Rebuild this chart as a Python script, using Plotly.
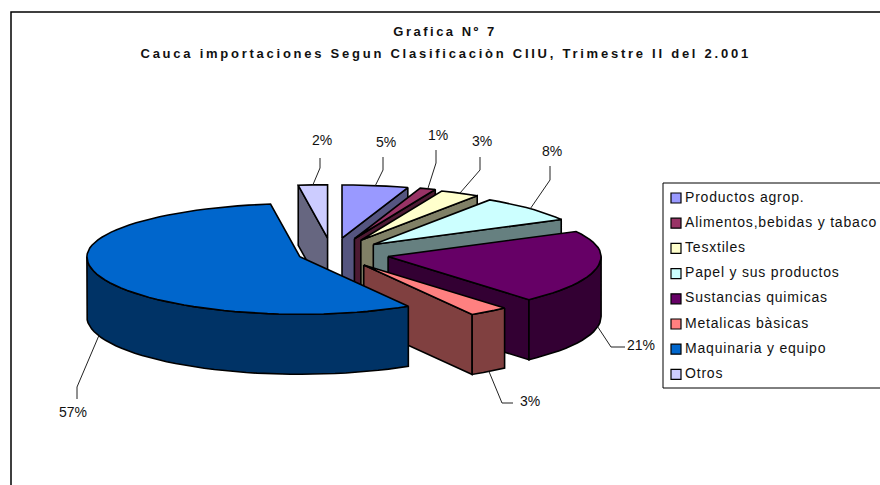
import math
import plotly.graph_objects as go

# --- data ---
categories = ["Productos agrop.", "Alimentos,bebidas y tabaco", "Tesxtiles", "Papel y sus productos",
              "Sustancias quimicas", "Metalicas bàsicas", "Maquinaria y equipo", "Otros"]
values = [5.0, 1.2, 3.0, 8.0, 21.3, 3.0, 56.3, 2.2]
percent_labels = ["5%", "1%", "3%", "8%", "21%", "3%", "57%", "2%"]
pulls = [64, 65, 62, 56, 57, 54, 34, 64]

top_colors = ["#9999FF", "#993366", "#FFFFCC", "#CCFFFF", "#660066", "#FF8080", "#0066CC", "#CCCCFF"]
side_colors = ["#555580", "#4D1A33", "#808066", "#668080", "#330033", "#804040", "#003366", "#666680"]

# --- projection of the exploded 3-D pie ---
CX, CY, R, K_BACK, K_FRONT, DEPTH = 332, 254, 213, 0.25, 0.27, 60
paint_order = [7, 0, 1, 2, 3, 4, 5, 6]

# leader elbows and label anchors, per slice
elbow_x = [[383, 383], [436, 436], [480, 480], [550, 550], [611, 625], [502, 513], [77, 77], [320, 320]]
elbow_y = [[170, 157], [163, 150], [170, 157], [180, 166], [347, 347], [403, 403], [387, 399], [168, 158]]
label_x = [386, 438, 482, 552, 641, 530, 73, 322]
label_y = [143, 136, 142, 152, 346, 402, 413, 141]

total = sum(values)
spans = []
c = 0.0
for v in values:
    a0 = c / total * 360
    c += v
    spans.append((a0, c / total * 360))


def apex(i):
    m = math.radians(sum(spans[i]) / 2)
    return CX + pulls[i] * math.sin(m), CY - K_BACK * pulls[i] * math.cos(m)


def rim(ax, ay, deg, dz=0):
    t = math.radians(deg)
    k = K_BACK if math.cos(t) > 0 else K_FRONT
    return ax + R * math.sin(t), ay - k * R * math.cos(t) + dz


def arc(ax, ay, a0, a1, dz=0):
    n = max(2, int(abs(a1 - a0) / 3) + 1)
    return [rim(ax, ay, a0 + (a1 - a0) * j / (n - 1), dz) for j in range(n)]


fig = go.Figure()


def poly(points, color):
    xs = [p[0] for p in points] + [points[0][0]]
    ys = [p[1] for p in points] + [points[0][1]]
    fig.add_trace(go.Scatter(x=xs, y=ys, mode="lines", fill="toself", fillcolor=color,
                             line=dict(color="#000000", width=1.6), hoverinfo="skip", showlegend=False))


for i in paint_order:
    a0, a1 = spans[i]
    ax, ay = apex(i)
    # radial walls facing the viewer
    if 180 < a0 < 360:
        p = rim(ax, ay, a0)
        poly([(ax, ay), p, (p[0], p[1] + DEPTH), (ax, ay + DEPTH)], side_colors[i])
    if 0 < a1 < 180:
        p = rim(ax, ay, a1)
        poly([(ax, ay), p, (p[0], p[1] + DEPTH), (ax, ay + DEPTH)], side_colors[i])
    # outer rim facing the viewer
    r0, r1 = max(a0, 90), min(a1, 270)
    if r0 < r1:
        poly(arc(ax, ay, r0, r1) + arc(ax, ay, r1, r0, DEPTH), side_colors[i])
    # top face
    poly([(ax, ay)] + arc(ax, ay, a0, a1), top_colors[i])

# leader lines, starting on the rim at each slice's mid angle
for i, (a0, a1) in enumerate(spans):
    ax, ay = apex(i)
    mid = (a0 + a1) / 2
    dz = DEPTH if 90 < mid < 270 else 0
    s = rim(ax, ay, mid, dz)
    fig.add_trace(go.Scatter(x=[s[0]] + elbow_x[i], y=[s[1]] + elbow_y[i], mode="lines",
                             line=dict(color="#222222", width=1), hoverinfo="skip", showlegend=False))

fig.add_trace(go.Scatter(x=label_x, y=label_y, mode="text", text=percent_labels, textposition="middle center",
                         textfont=dict(family="Liberation Sans, Arial, sans-serif", size=14, color="#111111"),
                         hoverinfo="skip", showlegend=False))

# legend drawn as markers plus text inside the box
legend_y = [198 + 25.2 * i for i in range(len(categories))]
fig.add_trace(go.Scatter(x=[676] * len(categories), y=legend_y, mode="markers",
                         marker=dict(symbol="square", size=10, color=top_colors, line=dict(color="#000000", width=1.2)),
                         hoverinfo="skip", showlegend=False))
fig.add_trace(go.Scatter(x=[685] * len(categories), y=legend_y, mode="text", text=categories,
                         textposition="middle right", cliponaxis=False,
                         textfont=dict(family="Liberation Sans, Arial, sans-serif", size=14, color="#111111"),
                         hoverinfo="skip", showlegend=False))

fig.update_layout(
    width=880, height=485, autosize=False,
    margin=dict(l=0, r=0, t=0, b=0),
    paper_bgcolor="#FFFFFF", plot_bgcolor="#FFFFFF",
    showlegend=False,
    xaxis=dict(range=[0, 880], visible=False, fixedrange=True),
    yaxis=dict(range=[485, 0], visible=False, fixedrange=True),
    title=dict(
        text="<b>Grafica Nº 7</b>",
        x=445 / 880, xanchor="center", y=1 - 31 / 485, yanchor="middle",
        font=dict(family="Liberation Sans, Arial, sans-serif", size=13, color="#111111"),
    ),
    annotations=[dict(
        text="<b>Cauca importaciones Segun Clasificaciòn CIIU, Trimestre II del 2.001</b>",
        x=445, y=53, xref="x", yref="y", showarrow=False, xanchor="center", yanchor="middle",
        font=dict(family="Liberation Sans, Arial, sans-serif", size=13, color="#111111"),
    )],
    shapes=[
        dict(type="path", path="M 11 500 L 11 12 L 900 12", line=dict(color="#000000", width=1.5), layer="below"),
        dict(type="path", path="M 900 183 L 663 183 L 663 388 L 900 388", line=dict(color="#000000", width=1), layer="below"),
    ],
)

post = """
document.body.style.margin='0';
document.documentElement.style.overflow='hidden';
document.querySelectorAll('.gtitle').forEach(function(t){t.style.letterSpacing='2.5px';});
document.querySelectorAll('.annotation-text').forEach(function(t){t.style.letterSpacing='2.75px';});
document.querySelectorAll('.textpoint text').forEach(function(t){ if(t.textContent.indexOf('%')<0){t.style.letterSpacing='0.8px';}});
"""
fig.write_html("out.html", post_script=post, config={"displayModeBar": False})
